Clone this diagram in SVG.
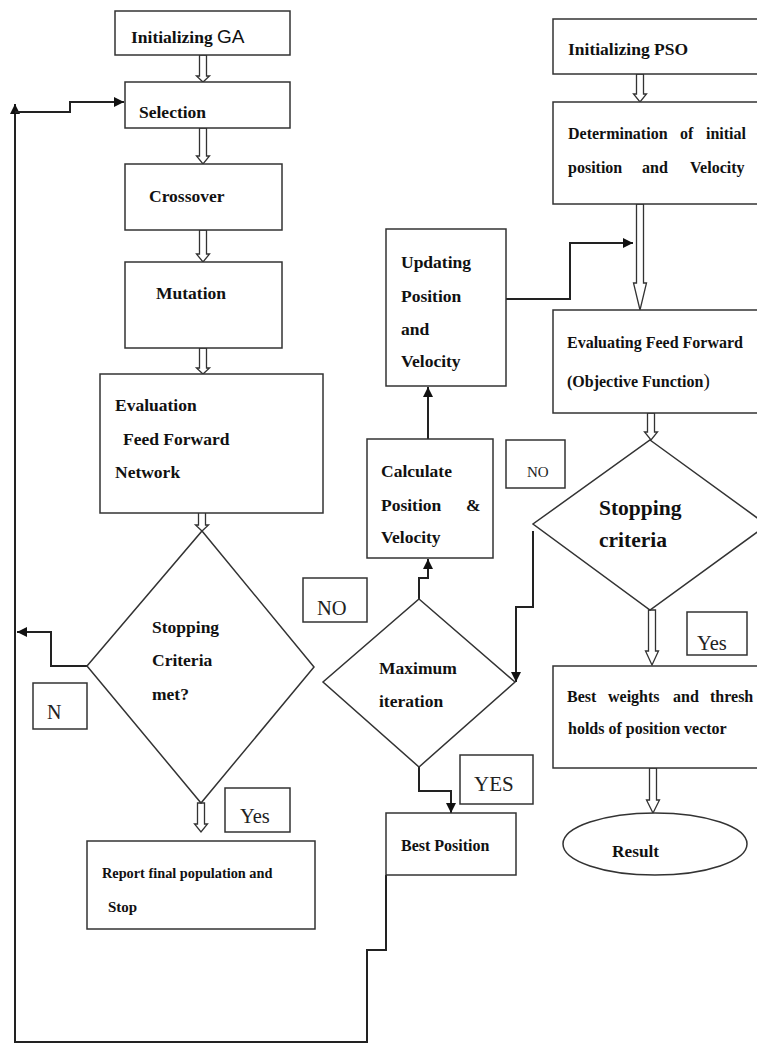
<svg xmlns="http://www.w3.org/2000/svg" width="757" height="1044" viewBox="0 0 757 1044">
<defs>
<style>
.box{fill:#fff;stroke:#333;stroke-width:1.5}
.ha{fill:#fff;stroke:#333;stroke-width:1.3}
.t{font-family:"Liberation Serif","Times New Roman",serif;font-weight:bold;fill:#111}
.r{font-family:"Liberation Serif","Times New Roman",serif;fill:#222}
.s{font-family:"Liberation Sans",Arial,sans-serif;fill:#111}
.c{fill:none;stroke:#222;stroke-width:2}
</style>
<marker id="ah" viewBox="0 0 10 10" refX="10" refY="5" markerWidth="10" markerHeight="10" markerUnits="userSpaceOnUse" orient="auto">
<path d="M0,0 L10,5 L0,10 z" fill="#111"/>
</marker>
</defs>
<rect width="757" height="1044" fill="#fff"/>

<g id="connectors">
<path class="c" d="M386,875 V950 H367 V1042 H15 V104" marker-end="url(#ah)"/>
<path class="c" d="M15,112 H70 V102 H124" marker-end="url(#ah)"/>
<path class="c" d="M87,666 H51 V632 H17" marker-end="url(#ah)"/>
<path class="c" d="M506,299 H570 V243 H633" marker-end="url(#ah)"/>
<path class="c" d="M428,439 V387" marker-end="url(#ah)"/>
<path class="c" d="M419,599 V578 H428 V559" marker-end="url(#ah)"/>
<path class="c" d="M533,531 V607 H516 V682" marker-end="url(#ah)"/>
<path class="c" d="M419,767 V791 H451 V813" marker-end="url(#ah)"/>
<polygon class="ha" points="199.5,55 206.5,55 206.5,76 209.5,76 203,82 196.5,76 199.5,76"/>
<polygon class="ha" points="199.5,128 206.5,128 206.5,156 209.5,156 203,164 196.5,156 199.5,156"/>
<polygon class="ha" points="199.5,230 206.5,230 206.5,254 209.5,254 203,262 196.5,254 199.5,254"/>
<polygon class="ha" points="199.5,348 206.5,348 206.5,368 209.5,368 203,374 196.5,368 199.5,368"/>
<polygon class="ha" points="198.5,507 205.5,507 205.5,525 208.5,525 202,531 195.5,525 198.5,525"/>
<polygon class="ha" points="197.5,803 204.5,803 204.5,824 207.5,824 201,832 194.5,824 197.5,824"/>
<polygon class="ha" points="636.5,74 643.5,74 643.5,94 646.5,94 640,102 633.5,94 636.5,94"/>
<polygon class="ha" points="636.5,204 643.5,204 643.5,283 646.5,283 640,310 633.5,283 636.5,283"/>
<polygon class="ha" points="647.5,413 654.5,413 654.5,432 657.5,432 651,440 644.5,432 647.5,432"/>
<polygon class="ha" points="648.5,610 655.5,610 655.5,651 658.5,651 652,665 645.5,651 648.5,651"/>
<polygon class="ha" points="649.5,768 656.5,768 656.5,800 659.5,800 653,813 646.5,800 649.5,800"/>
</g>

<g id="init-ga">
<rect class="box" x="115" y="11" width="175" height="44"/>
<text class="t" x="131" y="43" font-size="17.5">Initializing <tspan class="s" font-weight="normal" font-size="19">GA</tspan></text>
</g>
<g id="selection">
<rect class="box" x="125" y="82" width="165" height="46"/>
<text class="t" x="139" y="118" font-size="17.5">Selection</text>
</g>
<g id="crossover">
<rect class="box" x="125" y="164" width="157" height="66"/>
<text class="t" x="149" y="202" font-size="17.5">Crossover</text>
</g>
<g id="mutation">
<rect class="box" x="125" y="262" width="157" height="86"/>
<text class="t" x="156" y="299" font-size="17.5">Mutation</text>
</g>
<g id="evaluation">
<rect class="box" x="100" y="374" width="223" height="139"/>
<text class="t" x="115" y="411" font-size="17.5">Evaluation</text>
<text class="t" x="123" y="445" font-size="17.5">Feed Forward</text>
<text class="t" x="115" y="478" font-size="17.5">Network</text>
</g>
<g id="ga-stop">
<polygon class="box" points="202,531 314,667 201,803 87,666"/>
<text class="t" x="152" y="633" font-size="17.5">Stopping</text>
<text class="t" x="152" y="666" font-size="17.5">Criteria</text>
<text class="t" x="152" y="700" font-size="17.5">met?</text>
</g>
<g id="label-n">
<rect class="box" x="33" y="683" width="54" height="46"/>
<text class="r" x="47" y="719" font-size="20">N</text>
</g>
<g id="label-yes-ga">
<rect class="box" x="225" y="788" width="65" height="44"/>
<text class="r" x="240" y="823" font-size="20.5">Yes</text>
</g>
<g id="report">
<rect class="box" x="87" y="841" width="228" height="88"/>
<text class="t" x="102" y="878" font-size="14.3">Report final population and</text>
<text class="t" x="108" y="912" font-size="15">Stop</text>
</g>
<g id="label-no-left">
<rect class="box" x="303" y="578" width="64" height="44"/>
<text class="r" x="317" y="615" font-size="20.5">NO</text>
</g>

<g id="init-pso">
<rect class="box" x="553" y="19" width="210" height="55"/>
<text class="t" x="568" y="55" font-size="17.5">Initializing PSO</text>
</g>
<g id="determination">
<rect class="box" x="553" y="102" width="210" height="102"/>
<text class="t" y="139" font-size="16"><tspan x="568">Determination</tspan><tspan x="680">of</tspan><tspan x="706">initial</tspan></text>
<text class="t" y="173" font-size="16"><tspan x="568">position</tspan><tspan x="642">and</tspan><tspan x="690">Velocity</tspan></text>
</g>
<g id="evaluating">
<rect class="box" x="553" y="310" width="210" height="103"/>
<text class="t" x="567" y="348" font-size="16">Evaluating Feed Forward</text>
<text class="t" x="567" y="387" font-size="16">(Objective Function<tspan font-weight="normal" font-size="19">)</tspan></text>
</g>
<g id="updating">
<rect class="box" x="386" y="229" width="120" height="157"/>
<text class="t" x="401" y="268" font-size="17.5">Updating</text>
<text class="t" x="401" y="302" font-size="17.5">Position</text>
<text class="t" x="401" y="335" font-size="17.5">and</text>
<text class="t" x="401" y="367" font-size="17.5">Velocity</text>
</g>
<g id="calculate">
<rect class="box" x="367" y="439" width="126" height="119"/>
<text class="t" x="381" y="477" font-size="17.5">Calculate</text>
<text class="t" y="511" font-size="17.5"><tspan x="381">Position</tspan><tspan x="466">&amp;</tspan></text>
<text class="t" x="381" y="543" font-size="17.5">Velocity</text>
</g>
<g id="label-no-right">
<rect class="box" x="506" y="440" width="59" height="48"/>
<text class="r" x="527" y="477" font-size="15">NO</text>
</g>
<g id="pso-stop">
<polygon class="box" points="650,440 767,525 650,610 533,524"/>
<text class="t" x="599" y="515" font-size="21.5">Stopping</text>
<text class="t" x="599" y="547" font-size="21.5">criteria</text>
</g>
<g id="max-iter">
<polygon class="box" points="419,599 515,682 419,767 323,682"/>
<text class="t" x="379" y="674" font-size="17.5">Maximum</text>
<text class="t" x="379" y="707" font-size="17.5">iteration</text>
</g>
<g id="label-yes-pso">
<rect class="box" x="687" y="612" width="60" height="43"/>
<text class="r" x="697" y="650" font-size="20.5">Yes</text>
</g>
<g id="best-weights">
<rect class="box" x="553" y="666" width="210" height="102"/>
<text class="t" y="702" font-size="16"><tspan x="567">Best</tspan><tspan x="608">weights</tspan><tspan x="673">and</tspan><tspan x="710">thresh</tspan></text>
<text class="t" x="568" y="734" font-size="16">holds of position vector</text>
</g>
<g id="label-yes-max">
<rect class="box" x="460" y="755" width="73" height="49"/>
<text class="r" x="474" y="791" font-size="21">YES</text>
</g>
<g id="best-position">
<rect class="box" x="386" y="813" width="130" height="62"/>
<text class="t" x="401" y="851" font-size="16">Best Position</text>
</g>
<g id="result">
<ellipse class="box" cx="655" cy="844" rx="92" ry="31"/>
<text class="t" x="612" y="857" font-size="17.3">Result</text>
</g>
</svg>
